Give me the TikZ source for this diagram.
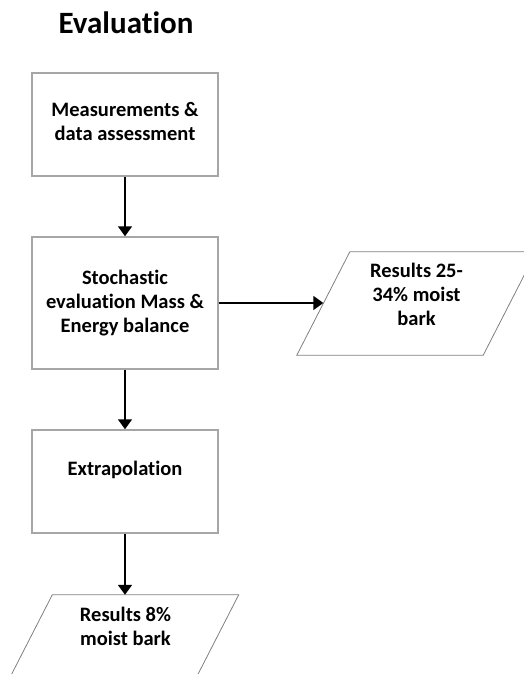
\documentclass[tikz,border=0pt]{standalone}
\usepackage{fontspec}
\setmainfont{Carlito}[Ligatures=NoCommon]
\usetikzlibrary{arrows.meta}

\definecolor{boxgray}{HTML}{A6A6A6}
\definecolor{slantgray}{HTML}{808080}

\tikzset{
  stepbox/.style={draw=boxgray, line width=1.5pt, minimum width=186pt, minimum height=103pt, inner sep=0pt},
  resultbox/.style={minimum width=186pt, minimum height=103pt, inner sep=0pt},
  slantline/.style={draw=slantgray, line width=0.8pt},
  boxtext/.style={font=\bfseries\fontsize{20.5}{24}\selectfont, align=center},
  flow/.style={-{Triangle[width=14pt,length=10pt]}, line width=1.8pt}
}

\begin{document}
\begin{tikzpicture}[x=1pt,y=-1pt]
\useasboundingbox (0,0) rectangle (523,674);
\node[font=\bfseries\fontsize{31}{36}\selectfont] (title) at (126,22.5) {Evaluation};
% boxes down the left
\node[stepbox, label={[boxtext, yshift=3.5pt]center:Measurements \&\\data assessment}] (meas) at (125,124.5) {};
\node[stepbox, minimum height=132pt, label={[boxtext]center:Stochastic\\evaluation Mass \&\\Energy balance}] (stoch) at (125,303) {};
\node[stepbox, label={[boxtext, yshift=12pt]center:Extrapolation}] (extra) at (125,481.5) {};
% results
\node[resultbox, label={[boxtext, yshift=9pt]center:Results 25-\\34\% moist\\bark}] (res1) at (416.5,303.5) {};
\node[resultbox, label={[boxtext, xshift=6.5pt, yshift=20pt]center:Results 8\%\\moist bark}] (res2) at (119,646.5) {};
\draw[slantline] ([xshift=26.5pt]res1.north west) -- ([xshift=26.5pt]res1.north east)
  -- ([xshift=-26.5pt]res1.south east) -- ([xshift=-26.5pt]res1.south west) -- cycle;
\draw[slantline] ([xshift=26.5pt]res2.north west) -- ([xshift=26.5pt]res2.north east)
  -- ([xshift=-26.5pt]res2.south east) -- ([xshift=-26.5pt]res2.south west) -- cycle;
% arrows
\draw[flow] (meas) -- (stoch);
\draw[flow] (stoch) -- (extra);
\draw[flow] (stoch.east) -- (res1.west |- stoch.east);
\draw[flow] (extra.south) -- (extra.south |- res2.north);
\end{tikzpicture}
\end{document}
